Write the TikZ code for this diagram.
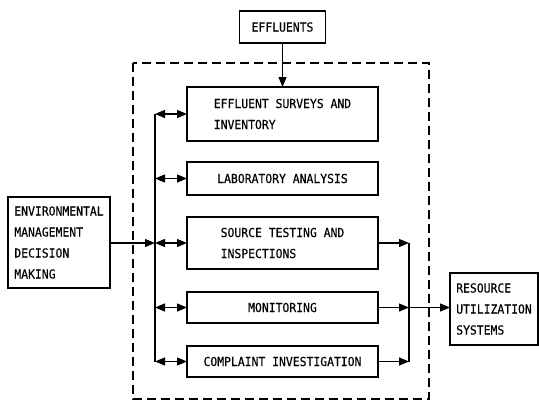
\documentclass[tikz,border=0pt]{standalone}
\usepackage{fontspec}
\setmainfont[FakeStretch=0.92,FakeBold=0.4]{DejaVu Sans Mono}
\usetikzlibrary{arrows.meta}
\begin{document}
\begin{tikzpicture}[x=1pt,y=-1pt,
  box/.style={draw,line width=1.6pt,inner sep=0pt,outer sep=0pt,align=left,
    font=\fontsize{12.4}{21}\selectfont},
  conn/.style={line width=1.2pt,-{Triangle[length=10pt,width=8pt]}},
  dconn/.style={line width=1.2pt,{Triangle[length=10pt,width=8pt]}-{Triangle[length=10pt,width=8pt]}},
  bus/.style={line width=1.2pt},
  frame/.style={line width=1.6pt,dash pattern=on 9pt off 5pt}]
\useasboundingbox (0,0) rectangle (539,402);
\draw[frame] (133,63) rectangle (429,399);
\node[box,minimum width=86pt,minimum height=32pt] (eff) at (282.5,27) {EFFLUENTS};
\node[box,minimum width=191pt,minimum height=54pt] (surv) at (282.5,114) {EFFLUENT SURVEYS AND\\INVENTORY};
\node[box,minimum width=191pt,minimum height=33pt] (lab) at (282.5,178.5) {LABORATORY ANALYSIS};
\node[box,minimum width=191pt,minimum height=52pt] (src) at (282.5,243) {SOURCE TESTING AND\\INSPECTIONS};
\node[box,minimum width=191pt,minimum height=31pt] (mon) at (282.5,307.5) {MONITORING};
\node[box,minimum width=191pt,minimum height=31pt] (comp) at (282.5,361.5) {COMPLAINT INVESTIGATION};
\node[box,minimum width=102pt,minimum height=91pt] (env) at (59,242.5) {ENVIRONMENTAL\\MANAGEMENT\\DECISION\\MAKING};
\node[box,minimum width=88pt,minimum height=72pt] (res) at (494,309) {RESOURCE\\UTILIZATION\\SYSTEMS};
% left bus
\coordinate (l1) at (155,114);
\coordinate (l2) at (155,178.5);
\coordinate (l3) at (155,243);
\coordinate (l4) at (155,307.5);
\coordinate (l5) at (155,361.5);
\draw[bus] (l1) -- (l5);
\draw[dconn] (l1) -- (surv.west);
\draw[dconn] (l2) -- (lab.west);
\draw[dconn] (l3) -- (src.west);
\draw[dconn] (l4) -- (mon.west);
\draw[dconn] (l5) -- (comp.west);
\draw[conn] (env.east |- l3) -- (l3);
\draw[conn] (eff.south) -- (surv.north);
% right bus
\coordinate (r3) at (409,243);
\coordinate (r4) at (409,307.5);
\coordinate (r5) at (409,361.5);
\draw[bus] (r3) -- (r5);
\draw[conn] (src.east) -- (r3);
\draw[conn] (mon.east) -- (r4);
\draw[conn] (comp.east) -- (r5);
\draw[conn] (r4) -- (res.west |- r4);
\end{tikzpicture}
\end{document}
